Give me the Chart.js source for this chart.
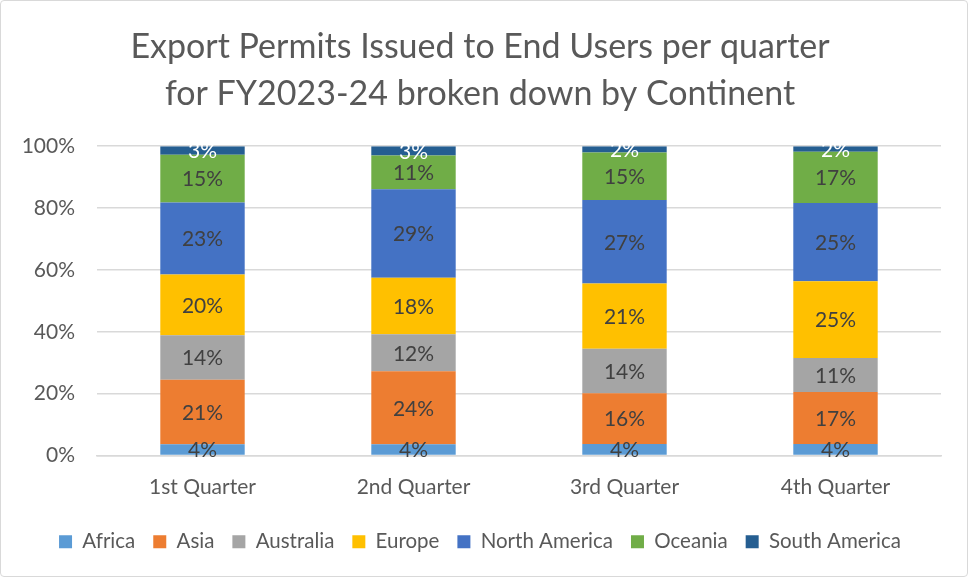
<!DOCTYPE html>
<html>
<head>
<meta charset="utf-8">
<script src="https://cdn.jsdelivr.net/npm/chart.js@4/dist/chart.umd.min.js"></script>
<style>
  html, body { margin: 0; padding: 0; background: #fff; }
  #wrap { position: relative; width: 966px; height: 575px; border: 1px solid #d9d9d9; border-radius: 4px; }
</style>
</head>
<body>
<div id="wrap"><canvas id="chart"></canvas></div>
<script>
const quarters = ['1st Quarter', '2nd Quarter', '3rd Quarter', '4th Quarter'];
const continents = ['Africa', 'Asia', 'Australia', 'Europe', 'North America', 'Oceania', 'South America'];
const colors = ['#5b9bd5', '#ed7d31', '#a5a5a5', '#ffc000', '#4472c4', '#70ad47', '#255e91'];

// percent share per quarter
const africa = [3.6, 3.6, 3.7, 3.7];
const asia = [20.9, 23.6, 16.4, 16.8];
const australia = [14.4, 12.0, 14.4, 11.0];
const europe = [19.6, 18.3, 21.1, 24.8];
const northAmerica = [23.3, 28.6, 27.0, 25.3];
const oceania = [15.4, 10.9, 15.4, 16.6];
const southAmerica = [2.8, 3.0, 2.0, 1.8];

const series = [africa, asia, australia, europe, northAmerica, oceania, southAmerica];
const yTicks = [0, 20, 40, 60, 80, 100];

const FONT = 'Lato, "Open Sans", sans-serif';

// simple data label plugin (no datalabels plugin available)
const barLabels = {
  id: 'barLabels',
  afterDatasetsDraw(chart) {
    const ctx = chart.ctx;
    ctx.save();
    ctx.font = '21px ' + FONT;
    ctx.textAlign = 'center';
    ctx.textBaseline = 'middle';
    chart.data.datasets.forEach((ds, i) => {
      const meta = chart.getDatasetMeta(i);
      meta.data.forEach((bar, j) => {
        const y = (bar.y + bar.base) / 2;
        ctx.fillStyle = i === 6 ? '#ffffff' : '#404040';
        ctx.fillText(Math.round(ds.data[j]) + '%', bar.x, y + 1);
      });
    });
    ctx.restore();
  }
};

const ctx = document.getElementById('chart').getContext('2d');
new Chart(ctx, {
  type: 'bar',
  data: {
    labels: quarters,
    datasets: continents.map((name, i) => ({
      label: name,
      data: series[i],
      backgroundColor: colors[i],
      borderWidth: 0,
      categoryPercentage: 1,
      barPercentage: 0.4
    }))
  },
  options: {
    responsive: true,
    maintainAspectRatio: false,
    animation: false,
    layout: { padding: { left: 18, right: 26, top: 22, bottom: 14 } },
    scales: {
      x: {
        stacked: true,
        grid: { display: false },
        border: { color: '#d9d9d9', width: 1.5 },
        ticks: { color: '#595959', font: { family: FONT, size: 21 }, padding: 11 },
        afterFit: scale => { scale.height = 58; }
      },
      y: {
        stacked: true,
        min: 0,
        max: 100,
        afterBuildTicks: scale => { scale.ticks = yTicks.map(v => ({ value: v })); },
        grid: { color: '#d9d9d9', lineWidth: 1.5, drawTicks: false },
        border: { display: false },
        ticks: {
          color: '#595959',
          font: { family: FONT, size: 21 },
          padding: 22,
          callback: v => v + '%'
        },
        afterFit: scale => { scale.width = 78; }
      }
    },
    plugins: {
      title: {
        display: true,
        text: ['Export Permits Issued to End Users per quarter', 'for FY2023-24 broken down by Continent'],
        color: '#595959',
        font: { family: FONT, size: 34, weight: 'normal', lineHeight: 1.4 },
        padding: { top: 0, bottom: 28 }
      },
      legend: {
        position: 'bottom',
        labels: {
          color: '#595959',
          font: { family: FONT, size: 20.5 },
          boxWidth: 13,
          boxHeight: 13,
          padding: 18
        }
      },
      tooltip: { enabled: false }
    }
  },
  plugins: [barLabels]
});
</script>
</body>
</html>
